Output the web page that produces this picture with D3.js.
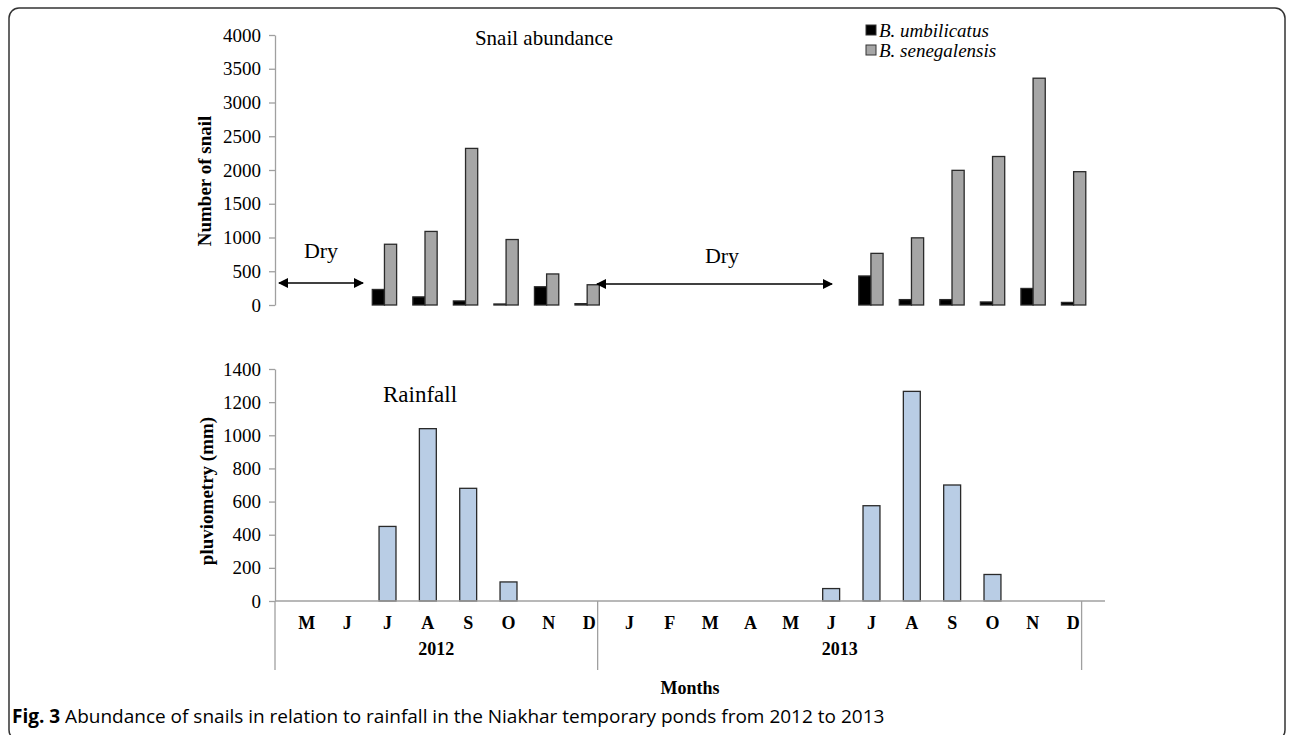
<!DOCTYPE html>
<html>
<head>
<meta charset="utf-8">
<script src="https://cdn.jsdelivr.net/npm/d3@7"></script>
<style>
  body { margin: 0; background: #fff; }
  svg text { font-family: "Liberation Serif", "Times New Roman", serif; fill: #000; }
  .axis path, .axis line { stroke: #a0a0a0; stroke-width: 1.3px; }
  .axis text { font-family: "Liberation Serif", serif; font-size: 19px; }
</style>
</head>
<body>
<svg id="chart"></svg>
<script>
// month categories (May 2012 -> Dec 2013)
var months = ["M","J","J","A","S","O","N","D","J","F","M","A","M","J","J","A","S","O","N","D"];
var years = ["2012", "2013"];
var yearSpan = [8, 12];

// snail counts, null = no sampling (dry)
var umbilicatus = [null,null,230,120,60,15,270,20, null,null,null,null,null,null,430,80,80,45,245,38];
var senegalensis = [null,null,900,1090,2320,970,460,300, null,null,null,null,null,null,765,995,1995,2200,3360,1975];

// rainfall (mm)
var rainfall = [0,0,450,1040,680,115,0,0, 0,0,0,0,0,75,575,1265,700,160,0,0];

var snailTicks = [0,500,1000,1500,2000,2500,3000,3500,4000];
var rainTicks = [0,200,400,600,800,1000,1200,1400];

var svgWidth = 1292;
var svgHeight = 735;

var svg = d3.select("#chart")
  .attr("width", svgWidth)
  .attr("height", svgHeight);

// rounded frame
svg.append("rect")
  .attr("x", 9).attr("y", 8)
  .attr("width", 1276).attr("height", 732)
  .attr("rx", 10)
  .attr("fill", "none")
  .attr("stroke", "#333")
  .attr("stroke-width", 1.5);

var idx = months.map((m, i) => i);

// ---------- top chart: snail abundance ----------
var xTop = d3.scaleBand().domain(idx).range([275, 1102]).padding(0.4);
var xSub = d3.scaleBand().domain(["u", "s"]).range([0, xTop.bandwidth()]);
var yTop = d3.scaleLinear().domain([0, 4000]).range([305, 35]);

var topAxis = svg.append("g")
  .attr("class", "axis")
  .attr("transform", "translate(275,0)")
  .call(d3.axisLeft(yTop).tickValues(snailTicks).tickFormat(d3.format("d"))
    .tickSize(6).tickPadding(8).tickSizeOuter(0));

var snailData = [];
idx.forEach(function(i) {
  if (umbilicatus[i] !== null) snailData.push({i: i, k: "u", v: umbilicatus[i]});
  if (senegalensis[i] !== null) snailData.push({i: i, k: "s", v: senegalensis[i]});
});

svg.append("g").selectAll("rect")
  .data(snailData)
  .enter()
  .append("rect")
  .attr("x", d => xTop(d.i) + xSub(d.k))
  .attr("y", d => yTop(d.v))
  .attr("width", xSub.bandwidth())
  .attr("height", d => yTop(0) - yTop(d.v))
  .attr("fill", d => d.k === "u" ? "#000" : "#a6a6a6")
  .attr("stroke", "#2a2a2a")
  .attr("stroke-width", 1.3);

svg.append("text")
  .attr("x", 544).attr("y", 45)
  .attr("text-anchor", "middle")
  .style("font-size", "21px")
  .text("Snail abundance");

svg.append("text")
  .attr("transform", "translate(211,181) rotate(-90)")
  .attr("text-anchor", "middle")
  .style("font-size", "19px")
  .style("font-weight", "bold")
  .text("Number of snail");

// legend
var legend = svg.append("g");
[["B. umbilicatus", "#000", 37], ["B. senegalensis", "#a6a6a6", 57]].forEach(function(l) {
  legend.append("rect")
    .attr("x", 866).attr("y", l[2] - 12)
    .attr("width", 10).attr("height", 10)
    .attr("fill", l[1]).attr("stroke", "#333").attr("stroke-width", 1);
  legend.append("text")
    .attr("x", 879).attr("y", l[2])
    .style("font-size", "19px")
    .style("font-style", "italic")
    .text(l[0]);
});

// dry-season arrows
svg.append("defs").append("marker")
  .attr("id", "head")
  .attr("viewBox", "0 0 10 10")
  .attr("refX", 9).attr("refY", 5)
  .attr("markerWidth", 12).attr("markerHeight", 10)
  .attr("markerUnits", "userSpaceOnUse")
  .attr("orient", "auto-start-reverse")
  .append("path")
  .attr("d", "M0,0 L10,5 L0,10 Z")
  .attr("fill", "#000");

[[279, 363, 283, 321, 258], [597, 832, 284, 722, 263]].forEach(function(a) {
  svg.append("line")
    .attr("x1", a[0]).attr("x2", a[1])
    .attr("y1", a[2]).attr("y2", a[2])
    .attr("stroke", "#000").attr("stroke-width", 1.6)
    .attr("marker-start", "url(#head)")
    .attr("marker-end", "url(#head)");
  svg.append("text")
    .attr("x", a[3]).attr("y", a[4])
    .attr("text-anchor", "middle")
    .style("font-size", "22px")
    .text("Dry");
});

// ---------- bottom chart: rainfall ----------
var xBot = d3.scaleBand().domain(idx).range([275, 1105]).padding(0.58);
var yBot = d3.scaleLinear().domain([0, 1400]).range([601, 369]);

var botAxis = svg.append("g")
  .attr("class", "axis")
  .attr("transform", "translate(275,0)")
  .call(d3.axisLeft(yBot).tickValues(rainTicks).tickFormat(d3.format("d"))
    .tickSize(6).tickPadding(8).tickSizeOuter(0));

svg.append("g").selectAll("rect")
  .data(rainfall.map((v, i) => ({i: i, v: v})).filter(d => d.v > 0))
  .enter()
  .append("rect")
  .attr("x", d => xBot(d.i))
  .attr("y", d => yBot(d.v))
  .attr("width", xBot.bandwidth())
  .attr("height", d => yBot(0) - yBot(d.v))
  .attr("fill", "#b9cde5")
  .attr("stroke", "#2a2a2a")
  .attr("stroke-width", 1.3);

// x axis baseline + group separators
var step = xBot.step();
svg.append("line")
  .attr("x1", 275).attr("x2", 1105)
  .attr("y1", 601).attr("y2", 601)
  .attr("stroke", "#a0a0a0").attr("stroke-width", 1.3);

var cum = 0;
var seps = [0];
yearSpan.forEach(function(n) { cum += n; seps.push(cum); });
svg.append("g").selectAll("line")
  .data(seps)
  .enter()
  .append("line")
  .attr("x1", d => 275 + d * step).attr("x2", d => 275 + d * step)
  .attr("y1", 601).attr("y2", 670)
  .attr("stroke", "#a0a0a0").attr("stroke-width", 1.3);

svg.append("g").selectAll("text")
  .data(idx)
  .enter()
  .append("text")
  .attr("x", i => xBot(i) + xBot.bandwidth() / 2)
  .attr("y", 629)
  .attr("text-anchor", "middle")
  .style("font-size", "18px")
  .style("font-weight", "bold")
  .text(i => months[i]);

svg.append("g").selectAll("text")
  .data(years)
  .enter()
  .append("text")
  .attr("x", (d, j) => 275 + (seps[j] + seps[j + 1]) / 2 * step)
  .attr("y", 655)
  .attr("text-anchor", "middle")
  .style("font-size", "18px")
  .style("font-weight", "bold")
  .text(d => d);

svg.append("text")
  .attr("x", 690).attr("y", 694)
  .attr("text-anchor", "middle")
  .style("font-size", "18px")
  .style("font-weight", "bold")
  .text("Months");

svg.append("text")
  .attr("x", 420).attr("y", 402)
  .attr("text-anchor", "middle")
  .style("font-size", "23px")
  .text("Rainfall");

svg.append("text")
  .attr("transform", "translate(213,491) rotate(-90)")
  .attr("text-anchor", "middle")
  .style("font-size", "19px")
  .style("font-weight", "bold")
  .text("pluviometry (mm)");

// caption
var cap = svg.append("text")
  .attr("x", 12).attr("y", 723)
  .style("font-family", "'Open Sans', sans-serif")
  .style("font-size", "19px");
cap.append("tspan").style("font-weight", "bold").style("font-family", "'Open Sans', sans-serif").text("Fig. 3");
cap.append("tspan").style("font-family", "'Open Sans', sans-serif").text(" Abundance of snails in relation to rainfall in the Niakhar temporary ponds from 2012 to 2013");
</script>
</body>
</html>
